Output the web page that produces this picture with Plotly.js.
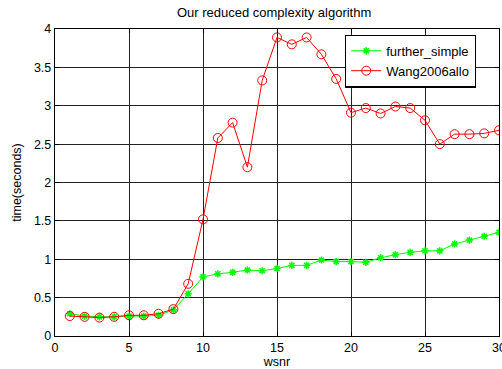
<!DOCTYPE html>
<html><head><meta charset="utf-8">
<script src="https://cdn.plot.ly/plotly-3.0.1.min.js"></script>
<style>html,body{margin:0;padding:0;background:#fff;overflow:hidden}#c{width:502px;height:369px}</style>
</head><body><div id="c"></div>
<script>
const wsnr = [1,2,3,4,5,6,7,8,9,10,11,12,13,14,15,16,17,18,19,20,21,22,23,24,25,26,27,28,29,30];
const furtherSimple = [0.29,0.26,0.25,0.25,0.26,0.26,0.27,0.34,0.55,0.77,0.81,0.83,0.86,0.85,0.88,0.92,0.92,0.99,0.97,0.97,0.96,1.02,1.06,1.09,1.11,1.11,1.20,1.25,1.30,1.35];
const wang2006allo = [0.26,0.25,0.24,0.25,0.27,0.27,0.29,0.35,0.68,1.52,2.58,2.78,2.20,3.33,3.89,3.80,3.89,3.67,3.35,2.91,2.97,2.90,2.99,2.97,2.81,2.50,2.63,2.63,2.64,2.68];
const xTicks = [0,5,10,15,20,25,30];
const yTicks = [0,0.5,1,1.5,2,2.5,3,3.5,4];

const fam = 'Liberation Sans, Arial, sans-serif';
const font = {family:fam, size:12.5, color:'#000'};
const traces = [
  {x:wsnr, y:furtherSimple, name:'further_simple', type:'scatter', mode:'lines+markers',
   line:{color:'#00ff00', width:1}, marker:{symbol:'asterisk-open', size:6, color:'#00ff00', line:{color:'#00ff00', width:1.5}}},
  {x:wsnr, y:wang2006allo, name:'Wang2006allo', type:'scatter', mode:'lines+markers',
   line:{color:'#ff0000', width:1}, marker:{symbol:'circle-open', size:9, color:'#ff0000', line:{color:'#ff0000', width:1}}}
];
const axisCommon = {showline:true, mirror:'ticks', linecolor:'#000', linewidth:1.2, ticks:'inside', ticklen:4, tickcolor:'#000',
  showgrid:true, gridcolor:'#222', gridwidth:1, zeroline:false, tickfont:font, ticklabeloverflow:'allow'};
const layout = {
  width:502, height:369, paper_bgcolor:'#fff', plot_bgcolor:'#fff', font:font,
  margin:{l:55, r:3, t:29, b:33},
  title:{text:'Our reduced complexity algorithm', font:{family:fam, size:13, color:'#000'}, x:0.546, xanchor:'center', y:0.978, yanchor:'top'},
  xaxis:Object.assign({}, axisCommon, {range:[0,30], tickvals:xTicks, ticktext:xTicks.map(String),
    title:{text:'wsnr', font:{family:fam, size:12.5, color:'#000'}, standoff:3}}),
  yaxis:Object.assign({}, axisCommon, {range:[0,4], tickvals:yTicks, ticktext:yTicks.map(String),
    title:{text:'time(seconds)', font:{family:fam, size:12.5, color:'#000'}, standoff:9}}),
  showlegend:true,
  legend:{x:0.653, y:0.982, xanchor:'left', yanchor:'top', bgcolor:'#fff', bordercolor:'#000', borderwidth:1.3,
    font:{family:fam, size:13, color:'#000'}, tracegroupgap:0}
};
Plotly.newPlot('c', traces, layout, {displayModeBar:false, staticPlot:true});
</script></body></html>
